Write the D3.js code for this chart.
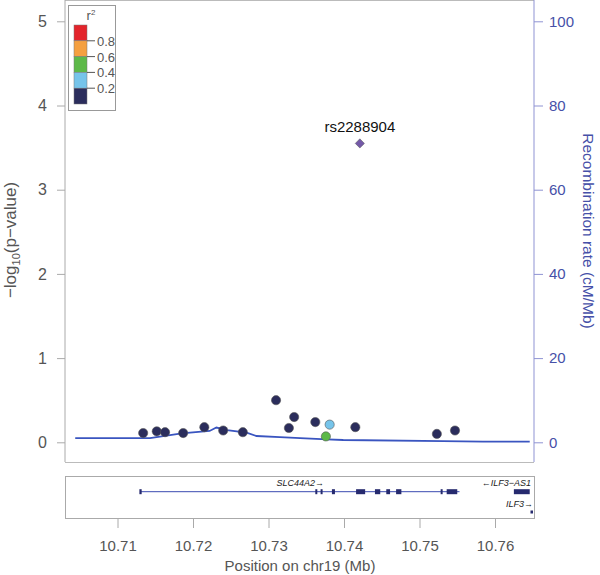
<!DOCTYPE html>
<html><head><meta charset="utf-8">
<script src="https://cdn.jsdelivr.net/npm/d3@7"></script>
<style>body{margin:0;background:#fff}svg{display:block;font-family:"Liberation Sans",Arial,sans-serif}</style>
</head><body>
<svg id="c" width="600" height="575"></svg>
<script>
// ---- data ----
const snpPos = [10.7134,10.7152,10.7163,10.7187,10.7215,10.7240,10.7266,10.7310,10.7327,10.7334,10.7362,10.7381,10.7376,10.7415,10.7523,10.7547];
const snpLogP = [0.11,0.13,0.12,0.11,0.18,0.14,0.12,0.50,0.17,0.30,0.24,0.21,0.07,0.18,0.10,0.14];
const snpR2 = [0.1,0.1,0.1,0.1,0.1,0.1,0.1,0.1,0.1,0.1,0.1,0.3,0.5,0.1,0.1,0.1];
const leadSnp = {name:"rs2288904", pos:10.7421, logp:3.55};
const recPos = [10.7044,10.7143,10.7185,10.7222,10.7231,10.7245,10.7271,10.7284,10.7315,10.7342,10.7377,10.7399,10.7531,10.7584,10.7646];
const recRate = [1.0,1.0,2.1,2.7,3.5,2.9,2.3,1.5,1.25,1.0,0.7,0.55,0.3,0.15,0.15];
const xTicks = [10.71,10.72,10.73,10.74,10.75,10.76];
const yTicks = [0,1,2,3,4,5];
const rTicks = [0,20,40,60,80,100];
const legendBreaks = [0.8,0.6,0.4,0.2];
const legendColors = ["#e3242b","#f5a040","#5db948","#76c4ea","#2b2d5c"];
const geneName = "SLC44A2";
const geneStart = 10.7131, geneEnd = 10.7553;
const geneExons = [[10.7129,10.7132],[10.7362,10.7364],[10.7369,10.7371],[10.7384,10.7388],[10.7416,10.7428],[10.7441,10.7448],[10.7456,10.7461],[10.7469,10.7476],[10.7528,10.7530],[10.7536,10.7550]];
const gene2 = {name:"ILF3\u2212AS1", start:10.7625, end:10.7646};
const gene3 = {name:"ILF3", start:10.7647, end:10.7650};

// ---- layout ----
const svg = d3.select("#c");
const L = 65, R = 534, T = 0, B = 462;
const x = d3.scaleLinear().domain([10.71,10.76]).range([117.5,495]);
const y = d3.scaleLinear().domain([0,5]).range([442.3,21.3]);
const yr = d3.scaleLinear().domain([0,100]).range([442.3,21.3]);
const grey = "#555", axisGrey = "#aaa", blue = "#4650a8";
const colorOf = r => r>=0.8?legendColors[0]:r>=0.6?legendColors[1]:r>=0.4?legendColors[2]:r>=0.2?legendColors[3]:legendColors[4];

// panel borders
svg.append("line").attr("x1",L).attr("x2",R).attr("y1",T+0.5).attr("y2",T+0.5).attr("stroke","#bbb");
svg.append("line").attr("x1",L).attr("x2",R).attr("y1",B+0.5).attr("y2",B+0.5).attr("stroke","#bbb");

// left axis
const ya = svg.append("g").attr("transform",`translate(${L},0)`)
  .call(d3.axisLeft(y).tickValues(yTicks).tickSize(8).tickPadding(10).tickFormat(d3.format("d")));
ya.select(".domain").attr("stroke",axisGrey).attr("d",`M0,${T}V${B}`);
ya.selectAll(".tick line").attr("stroke",axisGrey);
ya.selectAll(".tick text").attr("fill",grey).style("font-size","16px");

// right axis
const ra = svg.append("g").attr("transform",`translate(${R},0)`)
  .call(d3.axisRight(yr).tickValues(rTicks).tickSize(9).tickPadding(6));
ra.select(".domain").attr("stroke","#8f93d3").attr("d",`M0,${T}V${B}`);
ra.selectAll(".tick line").attr("stroke","#8f93d3");
ra.selectAll(".tick text").attr("fill",blue).style("font-size","15px");

// titles
const yt = svg.append("text").attr("transform","translate(16,240) rotate(-90)")
  .attr("text-anchor","middle").attr("fill",grey).style("font-size","17px");
yt.append("tspan").text("\u2212log");
yt.append("tspan").text("10").style("font-size","11px").attr("dy",4);
yt.append("tspan").text("(p\u2212value)").attr("dy",-4);
svg.append("text").attr("transform","translate(583,231) rotate(90)")
  .attr("text-anchor","middle").attr("fill",blue).style("font-size","15.5px")
  .text("Recombination rate (cM/Mb)");

// recombination line
svg.append("path").datum(recPos.map((p,i)=>[p,recRate[i]]))
  .attr("fill","none").attr("stroke","#3a55c0").attr("stroke-width",1.8)
  .attr("d",d3.line().x(d=>x(d[0])).y(d=>yr(d[1])));

// points
svg.append("g").selectAll("circle").data(snpPos.map((p,i)=>({p,v:snpLogP[i],r:snpR2[i]})))
  .join("circle").attr("cx",d=>x(d.p)).attr("cy",d=>y(d.v)).attr("r",4.6)
  .attr("fill",d=>colorOf(d.r)).attr("stroke","#555").attr("stroke-width",0.6);

// lead snp (square diamond)
svg.append("path").attr("d",d3.symbol(d3.symbolSquare,42)())
  .attr("transform",`translate(${x(leadSnp.pos)},${y(leadSnp.logp)}) rotate(45)`)
  .attr("fill","#7459a8").attr("stroke","#555").attr("stroke-width",0.5);
svg.append("text").attr("x",x(leadSnp.pos)).attr("y",y(leadSnp.logp)-11)
  .attr("text-anchor","middle").attr("fill","#111").style("font-size","15px").text(leadSnp.name);

// legend
const lg = svg.append("g");
lg.append("rect").attr("x",68.5).attr("y",5.5).attr("width",47).attr("height",105).attr("fill","#fff").attr("stroke","#999");
const lt = lg.append("text").attr("x",91).attr("y",20).attr("text-anchor","middle").attr("fill",grey).style("font-size","13px");
lt.append("tspan").text("r");
lt.append("tspan").text("2").style("font-size","8px").attr("dy",-5);
const ly = d3.scaleLinear().domain([1,0]).range([25,104]);
const bounds = [1,0.8,0.6,0.4,0.2,0];
legendColors.forEach((c,i)=>{
  lg.append("rect").attr("x",74).attr("y",ly(bounds[i])).attr("width",13).attr("height",ly(bounds[i+1])-ly(bounds[i]))
    .attr("fill",c).attr("stroke","#777").attr("stroke-width",0.5);
});
legendBreaks.forEach(b=>{
  lg.append("line").attr("x1",87).attr("x2",95).attr("y1",ly(b)).attr("y2",ly(b)).attr("stroke",grey);
  lg.append("text").attr("x",97).attr("y",ly(b)+5).attr("fill",grey).style("font-size","13px").text(b.toFixed(1));
});

// gene panel
const GT = 476, GB = 518;
svg.append("rect").attr("x",L+0.5).attr("y",GT+0.5).attr("width",R-L).attr("height",GB-GT).attr("fill","none").attr("stroke","#aaa");
const gy = 491.7, gy2 = 512;
svg.append("line").attr("x1",x(geneStart)).attr("x2",x(geneEnd)).attr("y1",gy).attr("y2",gy).attr("stroke","#3a4bb0").attr("stroke-width",1);
svg.append("g").selectAll("rect").data(geneExons).join("rect")
  .attr("x",d=>x(d[0])).attr("width",d=>Math.max(2,x(d[1])-x(d[0]))).attr("y",gy-2.5).attr("height",5).attr("fill","#262a6e");
svg.append("text").attr("x",x((geneStart+geneEnd)/2)).attr("y",486).attr("text-anchor","middle")
  .style("font-size","9px").style("font-style","italic").attr("fill","#222").text(geneName+"\u2192");
svg.append("rect").attr("x",x(gene2.start)).attr("width",x(gene2.end)-x(gene2.start)).attr("y",gy-2.5).attr("height",5).attr("fill","#262a6e");
svg.append("text").attr("x",531).attr("y",486).attr("text-anchor","end")
  .style("font-size","9px").style("font-style","italic").attr("fill","#222").text("\u2190"+gene2.name);
svg.append("rect").attr("x",x(gene3.start)).attr("width",2.5).attr("y",gy2-1.5).attr("height",3).attr("fill","#262a6e");
svg.append("text").attr("x",533).attr("y",507).attr("text-anchor","end")
  .style("font-size","9px").style("font-style","italic").attr("fill","#222").text(gene3.name+"\u2192");

// x axis
const xa = svg.append("g").attr("transform",`translate(0,${GB+1})`)
  .call(d3.axisBottom(x).tickValues(xTicks).tickSize(9).tickPadding(12).tickFormat(d3.format(".2f")));
xa.select(".domain").remove();
xa.selectAll(".tick line").attr("stroke",axisGrey);
xa.selectAll(".tick text").attr("fill",grey).style("font-size","15px");
svg.append("text").attr("x",300).attr("y",571).attr("text-anchor","middle").attr("fill",grey).style("font-size","15px").text("Position on chr19 (Mb)");
</script>
</body></html>
